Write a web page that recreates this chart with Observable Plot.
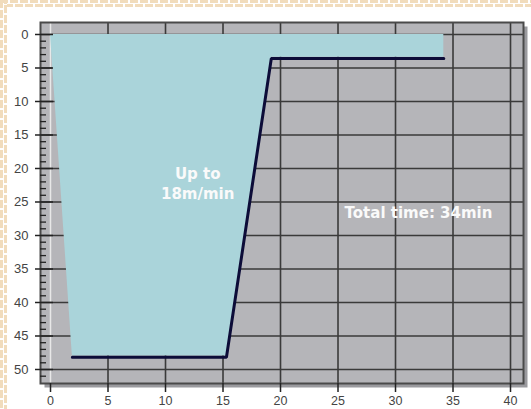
<!DOCTYPE html>
<html>
<head>
<meta charset="utf-8">
<script src="https://cdn.jsdelivr.net/npm/d3@7"></script>
<script src="https://cdn.jsdelivr.net/npm/@observablehq/plot@0.6"></script>
<style>
html, body { margin: 0; padding: 0; background: #fff; width: 531px; height: 409px; overflow: hidden; }
#wrap { position: relative; width: 531px; height: 409px; }
.row { position: absolute; left: 0; width: 531px; height: 3px;
  background: repeating-linear-gradient(to right, #f1dcbc 0 8px, #fff 8px 10px); }
.col { position: absolute; top: 0; width: 3px; height: 409px;
  background: repeating-linear-gradient(to bottom, #f1dcbc 0 8px, #fff 8px 10px); }
#chart { position: absolute; left: 0; top: 0; }
</style>
</head>
<body>
<div id="wrap">
  <div class="row" style="top:0"></div>
  <div class="row" style="top:4px; background-position:5px 0"></div>
  <div class="col" style="left:0"></div>
  <div class="col" style="left:4px; background-position:0 5px"></div>
  <div id="chart"></div>
</div>
<script>
// Dive profile: time (min) vs depth (m)
const profileTime  = [0, 1.9, 15.3, 19.2, 34.2, 34.2];
const profileDepth = [0, 48, 48, 3.4, 3.4, 0];

const xTicks = [0, 5, 10, 15, 20, 25, 30, 35, 40];
const yTicks = [0, 5, 10, 15, 20, 25, 30, 35, 40, 45, 50];
const yMinorTicks = [1,2,3,4,6,7,8,9,11,12,13,14,16,17,18,19,21,22,23,24,26,27,28,29,31,32,33,34,36,37,38,39,41,42,43,44,46,47,48,49,51];

const noteText = ["Up to\n18m/min", "Total time: 34min"];
const noteX = [12.8, 32];
const noteY = [22.1, 26.4];

const profile = profileTime.map((t, i) => ({t, d: profileDepth[i]}));
const bottomLine = profile.slice(1, 5);
const notes = noteText.map((s, i) => ({s, x: noteX[i], y: noteY[i]}));

const chart = Plot.plot({
  width: 531,
  height: 409,
  marginLeft: 40,
  marginRight: 8,
  marginTop: 22,
  marginBottom: 26,
  style: {background: "transparent", fontFamily: "'Liberation Sans', Arial, sans-serif"},
  x: {domain: [-0.87, 41.13], axis: null},
  y: {domain: [-1.79, 52.09], axis: null, range: [22, 383]},
  marks: [
    Plot.frame({fill: "#9a9a9e", dx: 4, dy: 4}),
    Plot.frame({fill: "#b5b5b9"}),
    Plot.gridX(xTicks.filter(d => d > 0), {stroke: "#3a3a3a", strokeOpacity: 1, strokeWidth: 1.6}),
    Plot.gridX([0], {stroke: "#e8e8e8", strokeOpacity: 1, strokeWidth: 1.5}),
    Plot.gridY(yTicks, {stroke: "#3a3a3a", strokeOpacity: 1, strokeWidth: 1.6}),
    Plot.areaY(profile, {x: "t", y1: 0, y2: "d", fill: "#aad4da", curve: "linear"}),
    Plot.line(bottomLine, {x: "t", y: "d", stroke: "#0c0c38", strokeWidth: 3, dy: 1.2, strokeLinejoin: "miter"}),
    Plot.frame({stroke: "#4a4a4a", strokeWidth: 2}),
    Plot.axisY(yMinorTicks, {tickSize: 6, dx: 6, text: null, stroke: "#222", strokeWidth: 1.3}),
    Plot.axisY(yTicks, {tickSize: 18, dx: 13, text: null, stroke: "#222", strokeWidth: 1.5}),
    Plot.axisY(yTicks, {tickSize: 0, tickPadding: 12, fontSize: 13, fill: "#444"}),
    Plot.axisX(xTicks, {tickSize: 9, tickPadding: 4, fontSize: 12.5, fill: "#444", stroke: "#222", strokeWidth: 1.5}),
    Plot.text(notes, {x: "x", y: "y", text: "s", fill: "#fafafa", fontSize: 15, fontWeight: "bold",
      fontFamily: "'DejaVu Sans', sans-serif", lineHeight: 1.3, textAnchor: "middle"})
  ]
});
document.getElementById("chart").appendChild(chart);
</script>
</body>
</html>
